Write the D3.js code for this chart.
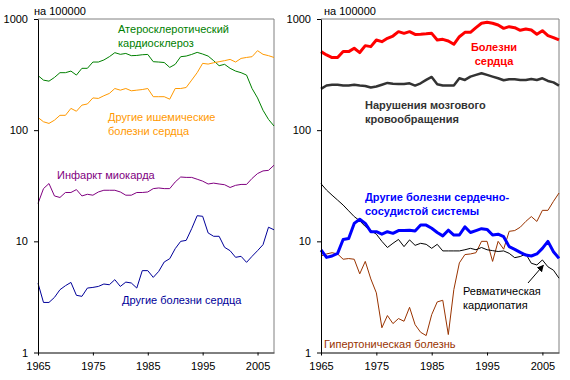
<!DOCTYPE html>
<html>
<head>
<meta charset="utf-8">
<script src="https://cdn.jsdelivr.net/npm/d3@7"></script>
<style>
  body { margin: 0; background: #fff; }
  svg { display: block; }
  text { font-family: Arial, "Liberation Sans", sans-serif; font-size: 11px; }
</style>
</head>
<body>
<svg id="chart" width="570" height="380"></svg>
<script>
const years = d3.range(1965, 2009);
const xTicks = [1965, 1975, 1985, 1995, 2005];
const yTicks = [1, 10, 100, 1000];

// left panel, per 100000
const atherosclerotic = [310, 282, 276, 298, 329, 329, 340, 313, 360, 360, 410, 410, 428, 458, 498, 481, 490, 468, 470, 477, 480, 413,
  410, 406, 367, 391, 458, 464, 480, 501, 484, 464, 422, 380, 391, 360, 340, 329, 313, 237, 195, 151, 125, 109];
const otherIschemic = [130, 119, 115, 123, 136, 136, 157, 148, 168, 172, 195, 193, 204, 214, 237, 229, 237, 226, 229, 232, 237, 200,
  200, 200, 190, 237, 237, 242, 282, 329, 399, 393, 404, 413, 422, 433, 410, 442, 451, 458, 519, 481, 468, 451];
const infarction = [21.9, 29.8, 33.1, 25.6, 24.8, 27.5, 27.5, 29.2, 25.6, 26.5, 26, 27.8, 28.8, 28.8, 28.8, 27.8, 26, 26, 27.5, 27.5, 27.8, 29.8,
  30.2, 29.8, 29.8, 34.2, 37.9, 37.6, 37.6, 36.2, 34.8, 32.8, 33.4, 32.8, 32.3, 30.5, 31.9, 32.5, 32.5, 36.8, 40.7, 43, 43.5, 48.4];
const otherHeart = [4.2, 2.82, 2.82, 3.13, 3.67, 3.99, 4.27, 3.27, 3.2, 3.8, 3.85, 3.93, 4.13, 4.07, 4.52, 3.93, 4.3, 4.22, 3.8, 5.45, 5.45, 4.74,
  5.37, 6.52, 6.98, 8.59, 10, 10.2, 13, 17, 16.8, 11.9, 11.1, 11.1, 8.83, 8.24, 7.18, 7.33, 6.47, 7.33, 8.24, 9.33, 13.4, 12.7];

// right panel, per 100000
const heartDisease = [509, 475, 450, 450, 509, 509, 546, 499, 576, 564, 648, 625, 670, 703, 769, 743, 769, 727, 730, 735, 743, 648,
  656, 634, 592, 693, 759, 759, 836, 915, 934, 915, 883, 824, 853, 836, 791, 813, 796, 730, 785, 708, 680, 648];
const cerebrovascular = [235, 252, 256, 256, 252, 252, 256, 252, 250, 242, 247, 256, 266, 262, 260, 260, 264, 252, 264, 283, 301, 259,
  252, 252, 252, 293, 283, 303, 314, 325, 314, 303, 293, 281, 287, 287, 283, 283, 289, 283, 293, 277, 269, 252];
const otherCardiovascular = [8.36, 7.17, 7.38, 7.8, 10.4, 10.6, 14.5, 15.8, 14.5, 12.2, 12.2, 11.6, 12.2, 11.8, 12.5, 12.5, 12.6, 12.4, 14, 14, 13.1, 12,
  11.2, 12.6, 11.4, 11.4, 13.5, 12, 12.5, 13, 12.8, 11.4, 11.6, 11, 8.96, 8.47, 7.96, 7.53, 7.38, 7.7, 8.65, 10, 8.07, 7.03];
const rheumatic = [33, 28.9, 26, 23.5, 21.2, 18.8, 16.7, 15.3, 13.6, 12.5, 11.6, 10, 8.8, 9.6, 10.4, 8.96, 10.3, 9.2, 9.6, 9.4, 8.65, 9.4,
  8.2, 8.2, 8.2, 8.2, 8.4, 8.65, 8.4, 8.8, 8.4, 8.25, 8.1, 8.2, 7.8, 7.13, 7.3, 7.7, 6.35, 6.13, 6.8, 5.9, 5.5, 4.66];
const hypertensive = [7.38, 7.7, 7.9, 7.7, 6.9, 7, 6.9, 5.1, 6.6, 4.59, 3.44, 1.67, 2.15, 1.82, 2.02, 1.91, 2.55, 1.78, 1.52, 1.42, 2.19, 2.85,
  2.95, 1.45, 3.68, 6.4, 7.6, 7.7, 7.9, 10, 10, 6.6, 10, 8.5, 12.3, 12.5, 13.4, 15.1, 16.7, 15.1, 19, 19, 22.9, 27.2];

const svg = d3.select('#chart');
const plotTop = 19, plotBottom = 352.5;

function panel(x0, x1, series, labels, unitX) {
  const x = d3.scaleLinear().domain([1965, 2008]).range([x0, x1]);
  const y = d3.scaleLog().domain([1, 1000]).range([plotBottom, plotTop]);
  const g = svg.append('g');

  // plot frame (top and right)
  g.append('path')
    .attr('d', `M${x0},${plotTop}H${x1}V${plotBottom}`)
    .attr('fill', 'none')
    .attr('stroke', '#808080')
    .attr('stroke-width', 1);

  const line = d3.line()
    .x((d, i) => x(years[i]))
    .y(d => y(d));

  series.forEach((s) => {
    g.append('path')
      .datum(s.values)
      .attr('d', line)
      .attr('fill', 'none')
      .attr('stroke', s.color)
      .attr('stroke-width', s.width)
      .attr('stroke-linejoin', 'round');
  });

  const yAxis = g.append('g')
    .attr('transform', `translate(${x0},0)`)
    .call(d3.axisLeft(y).tickValues(yTicks).tickFormat(d3.format('d')).tickSize(4).tickSizeOuter(0).tickPadding(6));
  const xAxis = g.append('g')
    .attr('transform', `translate(0,${plotBottom})`)
    .call(d3.axisBottom(x).tickValues(xTicks).tickFormat(d => d).tickSize(3).tickSizeOuter(0).tickPadding(7));
  [yAxis, xAxis].forEach((a) => {
    a.selectAll('text').attr('font-size', '11px').attr('font-family', 'Arial, "Liberation Sans", sans-serif').attr('fill', '#000');
    a.select('.domain').attr('stroke', '#000');
  });

  g.append('text')
    .attr('x', unitX)
    .attr('y', 15)
    .text('на 100000');

  labels.forEach((l) => {
    const t = g.append('text')
      .attr('fill', l.color)
      .attr('font-weight', l.bold ? 'bold' : 'normal')
      .attr('text-anchor', l.anchor || 'start');
    l.lines.forEach((str, i) => {
      t.append('tspan').attr('x', l.x).attr('y', l.y + i * 14).text(str);
    });
  });
  return {x, y, g};
}

panel(38, 274, [
  {values: atherosclerotic, color: '#008000', width: 1},
  {values: otherIschemic, color: '#ff9900', width: 1},
  {values: infarction, color: '#800080', width: 1},
  {values: otherHeart, color: '#000099', width: 1},
], [
  {lines: ['Атеросклеротический', 'кардиосклероз'], x: 118, y: 33, color: '#008000'},
  {lines: ['Другие ишемические', 'болезни сердца'], x: 108, y: 121, color: '#ff9900'},
  {lines: ['Инфаркт миокарда'], x: 57, y: 179, color: '#800080'},
  {lines: ['Другие болезни сердца'], x: 122, y: 304, color: '#000099'},
], 34);

const right = panel(321, 559, [
  {values: hypertensive, color: '#993300', width: 1},
  {values: rheumatic, color: '#000', width: 1},
  {values: otherCardiovascular, color: '#0000ff', width: 3},
  {values: cerebrovascular, color: '#333333', width: 2.5},
  {values: heartDisease, color: '#ff0000', width: 3},
], [
  {lines: ['Болезни', 'сердца'], x: 494, y: 51, color: '#ff0000', bold: true, anchor: 'middle'},
  {lines: ['Нарушения мозгового', 'кровообращения'], x: 365, y: 108.5, color: '#333333', bold: true},
  {lines: ['Другие болезни сердечно-', 'сосудистой системы'], x: 365, y: 201, color: '#0000ff', bold: true},
  {lines: ['Ревматическая', 'кардиопатия'], x: 463, y: 295, color: '#000'},
  {lines: ['Гипертоническая болезнь'], x: 324, y: 347.5, color: '#993300'},
], 324);

// arrow pointing at the rheumatic line
svg.append('defs').append('marker')
  .attr('id', 'head')
  .attr('viewBox', '0 0 10 10')
  .attr('refX', 9).attr('refY', 5)
  .attr('markerWidth', 7).attr('markerHeight', 7)
  .attr('markerUnits', 'userSpaceOnUse')
  .attr('orient', 'auto')
  .append('path').attr('d', 'M0,0L10,5L0,10Z').attr('fill', '#000');
svg.append('line')
  .attr('x1', 528).attr('y1', 283)
  .attr('x2', right.x(2005) + 1).attr('y2', right.y(6.1))
  .attr('stroke', '#000')
  .attr('stroke-width', 1)
  .attr('marker-end', 'url(#head)');
</script>
</body>
</html>
